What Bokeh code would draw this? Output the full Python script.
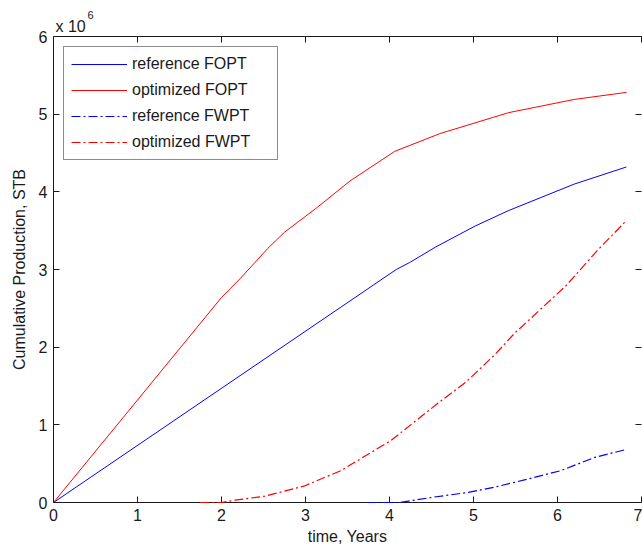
from bokeh.plotting import figure
from bokeh.models import Range1d, LinearAxis, Legend, LegendItem, FixedTicker, Title
from bokeh.embed import file_html
from bokeh.resources import INLINE

# time in years, cumulative production in 10^6 STB
ref_fopt_t = [0, 4.08, 4.24, 4.55, 5.02, 5.42, 6.2, 6.82]
ref_fopt_v = [0, 3.0, 3.09, 3.29, 3.56, 3.76, 4.10, 4.32]

opt_fopt_t = [0, 2.0, 2.22, 2.55, 2.75, 3.14, 3.53, 4.06, 4.6, 5.42, 6.2, 6.82]
opt_fopt_v = [0, 2.64, 2.88, 3.27, 3.48, 3.80, 4.14, 4.52, 4.75, 5.02, 5.19, 5.28]

ref_fwpt_t = [3.73, 4.12, 4.53, 4.94, 5.26, 5.49, 6.04, 6.44, 6.81]
ref_fwpt_v = [0, 0, 0.07, 0.13, 0.20, 0.26, 0.41, 0.58, 0.68]

opt_fwpt_t = [1.75, 2.0, 2.16, 2.51, 2.98, 3.42, 4.02, 4.59, 4.91, 5.26, 5.49, 6.1, 6.47, 6.82]
opt_fwpt_v = [0, 0, 0.03, 0.08, 0.21, 0.41, 0.80, 1.29, 1.55, 1.91, 2.18, 2.79, 3.24, 3.63]

x_ticks = [0, 1, 2, 3, 4, 5, 6, 7]
y_ticks = [0, 1, 2, 3, 4, 5, 6]
series_labels = ["reference FOPT", "optimized FOPT", "reference FWPT", "optimized FWPT"]

FONT = "Liberation Sans"
FS = "16px"
INK = "#1a1a1a"
BLUE = "blue"
RED = "red"

p = figure(width=642, height=554, output_backend="svg", toolbar_location=None,
           x_range=Range1d(0, 7), y_range=Range1d(0, 6),
           min_border_left=53, min_border_right=1, min_border_top=36, min_border_bottom=52)
p.background_fill_color = "white"
p.border_fill_color = "white"
p.outline_line_color = None
p.xgrid.visible = False
p.ygrid.visible = False

def style_axis(ax, line=True):
    ax.major_tick_in = 6
    ax.major_tick_out = 0
    ax.minor_tick_in = 0
    ax.minor_tick_out = 0
    ax.axis_line_color = INK if line else None
    ax.axis_line_width = 1
    ax.major_tick_line_color = INK
    ax.major_label_text_font = FONT
    ax.major_label_text_font_size = FS
    ax.major_label_text_color = INK
    ax.axis_label_text_font = FONT
    ax.axis_label_text_font_size = FS
    ax.axis_label_text_font_style = "normal"
    ax.axis_label_text_color = INK

xa = p.xaxis[0]
ya = p.yaxis[0]
xa.ticker = FixedTicker(ticks=x_ticks)
ya.ticker = FixedTicker(ticks=y_ticks)
style_axis(xa)
style_axis(ya)
xa.axis_label = "time, Years"
ya.axis_label = "Cumulative Production, STB"
xa.major_label_standoff = 6
ya.major_label_standoff = 6
xa.axis_label_standoff = 4
ya.axis_label_standoff = 8

top = LinearAxis(ticker=FixedTicker(ticks=x_ticks))
style_axis(top)
top.major_label_overrides = {t: "" for t in x_ticks}
top.major_label_standoff = 0
p.add_layout(top, "above")

right = LinearAxis(ticker=FixedTicker(ticks=y_ticks))
style_axis(right, line=False)
right.major_label_overrides = {t: "" for t in y_ticks}
right.major_label_standoff = 0
p.add_layout(right, "right")

r1 = p.line(ref_fopt_t, ref_fopt_v, line_color=BLUE, line_width=1)
r2 = p.line(opt_fopt_t, opt_fopt_v, line_color=RED, line_width=1)
r3 = p.line(ref_fwpt_t, ref_fwpt_v, line_color=BLUE, line_width=1.2, line_dash="9 3 2 3", level="overlay")
r4 = p.line(opt_fwpt_t, opt_fwpt_v, line_color=RED, line_width=1.2, line_dash="9 3 2 3", level="overlay")

legend = Legend(items=[LegendItem(label=l, renderers=[r]) for l, r in zip(series_labels, [r1, r2, r3, r4])],
                location="top_left", margin=10, padding=7, spacing=6,
                glyph_width=56, glyph_height=20, label_height=20, label_width=138,
                label_standoff=5, label_text_font=FONT, label_text_font_size=FS,
                label_text_color=INK,
                border_line_color=INK, border_line_width=1,
                background_fill_color="white", background_fill_alpha=1)
p.add_layout(legend, "center")

# "x 10^6" exponent marker above the y axis
p.add_layout(Title(text="x 10", align="left", offset=2, standoff=4, text_font=FONT,
                   text_font_size=FS, text_font_style="normal", text_color=INK), "above")
p.add_layout(Title(text="6", align="left", offset=34, standoff=-10, text_font=FONT,
                   text_font_size="11px", text_font_style="normal", text_color=INK), "above")

open("out.html", "w").write(file_html(p, INLINE))
